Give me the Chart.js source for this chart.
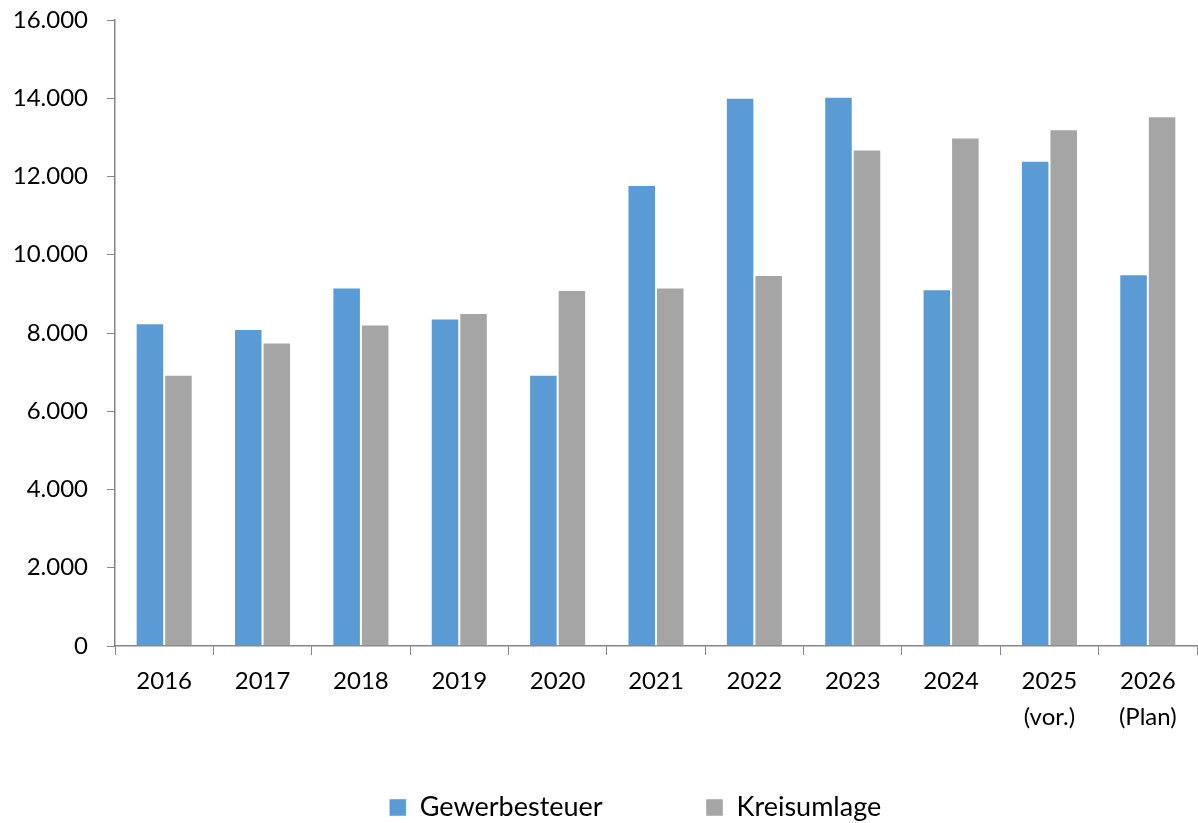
<!DOCTYPE html>
<html>
<head>
<meta charset="utf-8">
<script src="https://cdn.jsdelivr.net/npm/chart.js@4"></script>
<style>
  html, body { margin: 0; padding: 0; background: #fff; }
  #wrap { width: 1198px; height: 823px; }
</style>
</head>
<body>
<div id="wrap"><canvas id="chart" width="1198" height="823"></canvas></div>
<script>
// Data
const categories = [['2016'], ['2017'], ['2018'], ['2019'], ['2020'], ['2021'], ['2022'], ['2023'], ['2024'], ['2025', '(vor.)'], ['2026', '(Plan)']];
const gewerbesteuer = [8250, 8100, 9160, 8370, 6930, 11780, 14010, 14040, 9120, 12400, 9500];
const kreisumlage = [6930, 7760, 8220, 8510, 9100, 9160, 9480, 12690, 13000, 13210, 13540];
const yTicks = [0, 2000, 4000, 6000, 8000, 10000, 12000, 14000, 16000];

const FONT = 'Lato, "Open Sans", sans-serif';
const AXIS = '#868686';

function fmt(v) {
  return String(v).replace(/\B(?=(\d{3})+(?!\d))/g, '.');
}

// trailing spaces widen the legend items so the gap matches the original
const legendPad = [' '.repeat(7), ' '.repeat(6)];

new Chart(document.getElementById('chart'), {
  type: 'bar',
  data: {
    labels: categories,
    datasets: [
      {
        label: 'Gewerbesteuer',
        data: gewerbesteuer,
        backgroundColor: '#5B9BD5',
        borderColor: 'rgba(255,255,255,0.45)',
        borderWidth: 1
      },
      {
        label: 'Kreisumlage',
        data: kreisumlage,
        backgroundColor: '#A5A5A5',
        borderColor: 'rgba(255,255,255,0.45)',
        borderWidth: 1
      }
    ]
  },
  options: {
    responsive: false,
    animation: false,
    devicePixelRatio: 1,
    layout: { padding: { left: 0, right: 1, top: 20, bottom: -8 } },
    scales: {
      x: {
        offset: true,
        grid: { display: true, drawOnChartArea: false, drawTicks: true, tickLength: 9, color: AXIS, offset: true },
        border: { display: true, color: AXIS, width: 1.5 },
        ticks: { color: '#000', font: { family: FONT, size: 24, lineHeight: 1.5 }, padding: 8, maxRotation: 0, autoSkip: false },
        afterFit: (scale) => { scale.height = 93; }
      },
      y: {
        min: 0,
        max: 16000,
        afterBuildTicks: (scale) => { scale.ticks = yTicks.map(v => ({ value: v })); },
        grid: { display: true, drawOnChartArea: false, drawTicks: true, tickLength: 8, color: AXIS },
        border: { display: true, color: AXIS, width: 1.5 },
        ticks: { color: '#000', font: { family: FONT, size: 24 }, padding: 19, callback: (v) => fmt(v) },
        afterFit: (scale) => {
          scale.width = 115;
          scale.paddingTop = 0;
          scale.paddingBottom = 0;
        }
      }
    },
    datasets: { bar: { categoryPercentage: 0.58, barPercentage: 1.0 } },
    plugins: {
      tooltip: { enabled: false },
      legend: {
        position: 'bottom',
        fullSize: false,
        labels: {
          boxWidth: 17,
          boxHeight: 17,
          padding: 55,
          color: '#000',
          font: { family: FONT, size: 27 },
          generateLabels: (chart) => Chart.defaults.plugins.legend.labels.generateLabels(chart)
            .map((item, i) => Object.assign(item, { text: item.text + legendPad[i] }))
        }
      }
    }
  }
});
</script>
</body>
</html>
